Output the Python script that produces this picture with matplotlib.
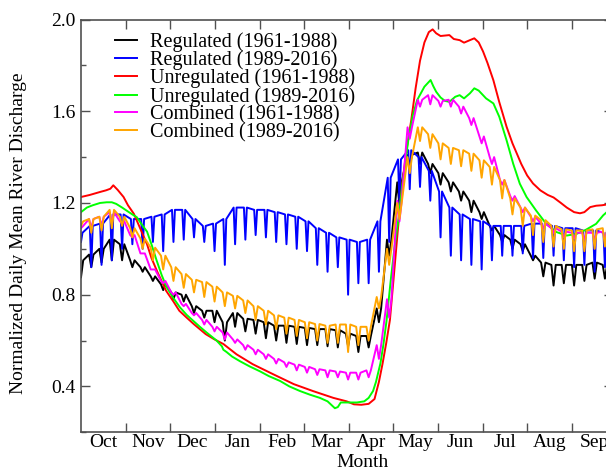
import numpy as np
import matplotlib.pyplot as plt
from matplotlib.ticker import FixedLocator, MultipleLocator, FormatStrFormatter

plt.rcParams['font.family'] = ['Liberation Serif', 'DejaVu Serif']

# months of the water year, Oct..Sep
month_names = ['Oct', 'Nov', 'Dec', 'Jan', 'Feb', 'Mar', 'Apr', 'May',
               'Jun', 'Jul', 'Aug', 'Sep']

# unregulated flows are smooth, given as (day, value)
red_days = [0, 6, 13, 17, 20, 22, 25, 29, 32, 36, 40, 45, 48, 52, 58, 63, 67, 72, 77, 85,
            91, 97, 106, 117, 131, 145, 158, 172, 181, 186, 191, 196, 200, 203, 205.5, 208,
            210.5, 213, 216, 219, 222, 225, 228, 231, 234, 237, 239.6, 242, 245, 248, 251,
            254, 258, 261, 265, 268, 271, 274, 277, 281, 285, 290, 294, 297, 300, 304, 308,
            313, 318, 322, 327, 331, 336, 340, 343, 347, 351, 355, 360, 364]
red_vals = [1.226, 1.235, 1.248, 1.255, 1.262, 1.277, 1.257, 1.226, 1.19, 1.153, 1.094, 1.02,
            0.96, 0.90, 0.817, 0.77, 0.73, 0.70, 0.671, 0.628, 0.605, 0.585, 0.54, 0.497,
            0.453, 0.41, 0.38, 0.35, 0.335, 0.322, 0.32, 0.324, 0.345, 0.42, 0.50, 0.59, 0.69,
            0.87, 1.09, 1.29, 1.44, 1.56, 1.70, 1.82, 1.90, 1.945, 1.957, 1.94, 1.928, 1.93,
            1.932, 1.915, 1.91, 1.899, 1.91, 1.918, 1.90, 1.86, 1.81, 1.735, 1.64, 1.532, 1.46,
            1.415, 1.37, 1.32, 1.285, 1.255, 1.235, 1.224, 1.20, 1.18, 1.16, 1.155, 1.16, 1.182,
            1.188, 1.19, 1.195, 1.20]

green_days = [0, 4, 8, 13, 17.5, 21, 24, 28, 31, 35, 38, 41, 45, 48, 51.5, 55, 58.4, 63, 67.4,
              72, 76.5, 81, 85.6, 92.4, 96, 97, 99.2, 103, 108.3, 115, 121.9, 128, 135.6, 142,
              149.2, 156, 162.8, 168, 173, 175, 177, 182, 188, 193, 196, 199, 201, 204, 206,
              208.2, 211, 213.5, 216.2, 219, 223, 226, 229, 234, 238.2, 240, 242, 245, 248, 251,
              255, 258, 261, 265, 268, 271, 276, 281, 285, 290, 294.5, 299, 303.6, 310, 317,
              324, 331, 337.6, 344, 351, 355.8, 360, 364]
green_vals = [1.16, 1.18, 1.19, 1.20, 1.203, 1.203, 1.196, 1.18, 1.167, 1.15, 1.138, 1.11,
              1.075, 1.02, 0.95, 0.885, 0.832, 0.785, 0.745, 0.712, 0.686, 0.66, 0.635, 0.60,
              0.575, 0.56, 0.55, 0.53, 0.51, 0.487, 0.466, 0.445, 0.424, 0.40, 0.38, 0.364,
              0.35, 0.335, 0.305, 0.31, 0.33, 0.33, 0.33, 0.335, 0.35, 0.38, 0.42, 0.50, 0.58,
              0.686, 0.86, 1.0, 1.124, 1.28, 1.473, 1.58, 1.648, 1.707, 1.736, 1.71, 1.685,
              1.66, 1.645, 1.641, 1.663, 1.67, 1.656, 1.678, 1.70, 1.69, 1.656, 1.634, 1.576,
              1.473, 1.371, 1.284, 1.226, 1.168, 1.109, 1.073, 1.058, 1.065, 1.083, 1.109,
              1.146, 1.17, 1.18]

# regulated / combined flows have a weekly cycle:
# *_hi = level at the start of each week, *_lo = the end-of-week dip
black_start = 0.876
black_hi = [0.95, 0.975, 1.00, 1.04, 1.02, 0.95, 0.92, 0.88, 0.845, 0.81, 0.80, 0.75, 0.73,
            0.73, 0.68, 0.72, 0.695, 0.69, 0.68, 0.665, 0.665, 0.66, 0.655, 0.65, 0.65, 0.645,
            0.63, 0.62, 0.62, 0.74, 1.04, 1.29, 1.41, 1.42, 1.37, 1.33, 1.29, 1.25, 1.21, 1.16,
            1.10, 1.06, 1.04, 1.02, 0.97, 0.94, 0.93, 0.93, 0.93, 0.93, 0.94, 0.93]
black_lo = [0.92, 0.94, 0.95, 0.95, 0.92, 0.90, 0.86, 0.82, 0.78, 0.77, 0.72, 0.70, 0.68,
            0.60, 0.66, 0.64, 0.63, 0.61, 0.60, 0.59, 0.585, 0.58, 0.58, 0.575, 0.57, 0.575,
            0.55, 0.57, 0.68, 0.97, 1.19, 1.36, 1.37, 1.33, 1.28, 1.25, 1.21, 1.16, 1.13, 1.08,
            1.03, 1.00, 0.99, 0.95, 0.88, 0.84, 0.85, 0.84, 0.86, 0.87, 0.87, 0.88]

blue_start = 1.03
blue_hi = [1.07, 1.10, 1.11, 1.15, 1.15, 1.13, 1.13, 1.14, 1.15, 1.17, 1.17, 1.13, 1.10,
           1.11, 1.13, 1.18, 1.18, 1.17, 1.17, 1.16, 1.15, 1.14, 1.12, 1.09, 1.07, 1.05, 1.04,
           1.03, 1.04, 1.12, 1.31, 1.39, 1.43, 1.40, 1.34, 1.25, 1.18, 1.15, 1.13, 1.12, 1.10,
           1.10, 1.10, 1.10, 1.11, 1.11, 1.10, 1.09, 1.09, 1.08, 1.08, 1.07]
blue_lo = [0.92, 0.93, 0.95, 1.00, 1.02, 1.00, 1.03, 0.99, 1.03, 1.04, 1.05, 1.03, 0.99,
           0.93, 1.02, 1.04, 1.06, 1.05, 1.03, 1.02, 1.00, 0.99, 0.93, 0.90, 0.92, 0.80, 0.85,
           0.85, 0.90, 1.03, 1.20, 1.26, 1.27, 1.21, 1.05, 0.97, 0.95, 0.93, 0.91, 0.95, 0.97,
           0.97, 0.98, 0.96, 0.96, 0.97, 0.95, 0.92, 0.93, 0.90, 0.92, 0.93]

magenta_start = 1.09
magenta_hi = [1.10, 1.13, 1.14, 1.16, 1.12, 1.06, 0.98, 0.91, 0.86, 0.81, 0.76, 0.72, 0.69,
              0.66, 0.635, 0.605, 0.58, 0.56, 0.54, 0.52, 0.505, 0.495, 0.485, 0.475, 0.47,
              0.465, 0.46, 0.46, 0.47, 0.58, 0.78, 1.21, 1.53, 1.65, 1.67, 1.645, 1.65, 1.62,
              1.57, 1.49, 1.40, 1.30, 1.23, 1.18, 1.14, 1.11, 1.09, 1.075, 1.07, 1.07, 1.07,
              1.075]
magenta_lo = [1.09, 1.10, 1.11, 1.11, 1.05, 0.98, 0.91, 0.85, 0.80, 0.75, 0.71, 0.67, 0.64,
              0.605, 0.59, 0.56, 0.54, 0.52, 0.50, 0.485, 0.47, 0.46, 0.45, 0.44, 0.44, 0.43,
              0.43, 0.44, 0.52, 0.70, 1.12, 1.48, 1.62, 1.63, 1.62, 1.62, 1.59, 1.54, 1.46,
              1.37, 1.28, 1.21, 1.16, 1.12, 1.09, 1.07, 1.05, 1.045, 1.04, 1.04, 1.045, 1.05]

orange_start = 1.10
orange_hi = [1.12, 1.13, 1.14, 1.17, 1.14, 1.09, 1.045, 1.005, 0.97, 0.92, 0.89, 0.865,
             0.855, 0.835, 0.81, 0.795, 0.775, 0.75, 0.73, 0.71, 0.70, 0.69, 0.68, 0.672,
             0.665, 0.67, 0.67, 0.66, 0.66, 0.79, 1.00, 1.20, 1.40, 1.53, 1.50, 1.46, 1.44,
             1.43, 1.415, 1.386, 1.357, 1.30, 1.22, 1.18, 1.145, 1.125, 1.10, 1.085, 1.08,
             1.08, 1.085, 1.09]
orange_lo = [1.07, 1.08, 1.09, 1.10, 1.05, 1.00, 0.95, 0.91, 0.86, 0.83, 0.81, 0.79, 0.77,
             0.75, 0.74, 0.72, 0.69, 0.67, 0.65, 0.63, 0.62, 0.61, 0.60, 0.59, 0.59, 0.55,
             0.58, 0.60, 0.74, 0.93, 1.13, 1.33, 1.47, 1.44, 1.39, 1.37, 1.36, 1.34, 1.31,
             1.28, 1.22, 1.15, 1.10, 1.06, 1.03, 1.01, 1.00, 0.99, 0.99, 1.00, 1.01, 1.01]


def weekly_line(start, hi, lo, up=1.0, down=1.0):
    """plateau from hi[k] to hi[k+1] across the week, then a dip to lo[k]"""
    days, vals = [0.0], [start]
    for k in range(len(hi)):
        nxt = hi[k + 1] if k + 1 < len(hi) else hi[k]
        days += [7 * k + up, 7 * k + 7 - down, 7 * k + 7]
        vals += [hi[k], nxt, lo[k]]
    return days, vals


fig = plt.figure(figsize=(6.06, 4.70), dpi=100)
ax = fig.add_axes([81 / 606, 1 - 432.3 / 470, 532 / 606, 412.8 / 470])

lw = 1.4
series = [
    (weekly_line(black_start, black_hi, black_lo, 1.5, 1.5), '#000000', 'Regulated (1961-1988)'),
    (weekly_line(blue_start, blue_hi, blue_lo), '#0000ff', 'Regulated (1989-2016)'),
    ((red_days, red_vals), '#ff0000', 'Unregulated (1961-1988)'),
    ((green_days, green_vals), '#00ff00', 'Unregulated (1989-2016)'),
    (weekly_line(magenta_start, magenta_hi, magenta_lo, 1.5, 1.5), '#ff00ff', 'Combined (1961-1988)'),
    (weekly_line(orange_start, orange_hi, orange_lo, 1.5, 1.5), '#ffa500', 'Combined (1989-2016)'),
]
for (x, y), col, lab in series:
    ax.plot(x, y, color=col, lw=lw, label=lab)

# axes
month_len = 365 / 12
ax.set_xlim(0, 362.5)
ax.set_ylim(0.2, 2.0)
ax.set_xticks([month_len * k for k in range(1, 12)])
ax.set_xticks([month_len * (k + 0.5) for k in range(12)], minor=True)
ax.set_xticklabels(month_names, minor=True)
ax.tick_params(axis='x', which='major', direction='in', length=6.8, width=1.0,
               top=True, labelbottom=False, color='#505050')
ax.tick_params(axis='x', which='minor', length=0, pad=1.5, labelsize=14)

ax.yaxis.set_major_locator(FixedLocator([0.4, 0.8, 1.2, 1.6, 2.0]))
ax.yaxis.set_minor_locator(MultipleLocator(0.2))
ax.yaxis.set_major_formatter(FormatStrFormatter('%.1f'))
ax.tick_params(axis='y', which='both', direction='in', right=True, width=1.0,
               color='#505050', labelsize=14, pad=3.6)
ax.tick_params(axis='y', which='major', length=6.8)
ax.tick_params(axis='y', which='minor', length=3.6)

for sp in ax.spines.values():
    sp.set_color('#505050')
    sp.set_linewidth(1.2)

fig.text(363 / 606, 1 - 467 / 470, 'Month', ha='center', va='baseline', fontsize=14)
fig.text(18.5 / 606, 1 - 233.5 / 470, 'Normalized Daily Mean River Discharge',
         rotation=90, ha='center', va='center', fontsize=14)

ax.legend(loc='upper left', bbox_to_anchor=(115 / 606, 1 - 32 / 470),
          bbox_transform=fig.transFigure, frameon=False, fontsize=14.5,
          borderpad=0, borderaxespad=0, handlelength=1.1, handletextpad=0.65,
          labelspacing=-0.07)

fig.savefig('out.png', dpi=100)
